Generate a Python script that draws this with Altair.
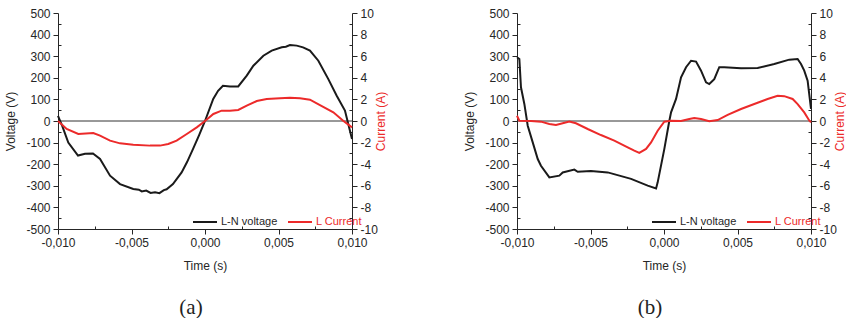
import altair as alt
import pandas as pd

# ---------------- data ----------------
SERIES = ["L-N voltage", "L Current"]
COLORS = ["#1a1a1a", "#ec2a2a"]

# panel (a)
ta_v = [-0.0100, -0.0097, -0.0093, -0.00864, -0.00816, -0.00762, -0.00714, -0.00646,
        -0.00578, -0.00488, -0.0045, -0.0043, -0.0040, -0.0037, -0.0034, -0.0031,
        -0.0028, -0.00261, -0.00218, -0.00159, -0.00122, -0.00082, -0.0004, 0.0,
        0.00056, 0.00089, 0.00122, 0.0017, 0.00226, 0.00284, 0.00329, 0.00397,
        0.00454, 0.00522, 0.0055, 0.00578, 0.00624, 0.00667, 0.00714, 0.00771,
        0.00839, 0.00896, 0.00952, 0.0100]
va = [24, -25, -100, -160, -152, -150, -176, -253,
      -292, -315, -318, -326, -322, -333, -330, -334,
      -320, -316, -292, -238, -190, -130, -65, 0,
      102, 140, 163, 160, 160, 210, 256, 302,
      326, 341, 344, 352, 349, 341, 326, 279,
      194, 117, 48, -83]

ta_i = [-0.0100, -0.00941, -0.00862, -0.0076, -0.00714, -0.00646, -0.00578, -0.00488,
        -0.00374, -0.00306, -0.0025, -0.00193, -0.00124, -0.00056, 0.0, 0.00057,
        0.00113, 0.0017, 0.00226, 0.00284, 0.00352, 0.0042, 0.0051, 0.00578,
        0.00646, 0.00714, 0.00782, 0.00873, 0.0094, 0.0100]
ia = [0, -0.74, -1.2, -1.11, -1.36, -1.82, -2.07, -2.19,
      -2.28, -2.28, -2.13, -1.82, -1.2, -0.59, 0, 0.65,
      0.96, 0.96, 1.02, 1.42, 1.85, 2.04, 2.1, 2.16,
      2.1, 1.97, 1.48, 0.8, 0.03, -0.59]

# panel (b)
tb_v = [-0.0100, -0.00984, -0.00973, -0.0095, -0.00927, -0.00893, -0.00859, -0.00837,
        -0.0078, -0.00712, -0.00689, -0.0061, -0.00587, -0.00497, -0.00383, -0.00224,
        -0.00111, -0.00054, -0.00043, 0.00002, 0.00036, 0.00048, 0.00082, 0.00116,
        0.0015, 0.00184, 0.00218, 0.00252, 0.00286, 0.00308, 0.00342, 0.00376,
        0.0041, 0.00524, 0.00637, 0.0075, 0.00852, 0.00909, 0.00932, 0.00954,
        0.00977, 0.0100]
vb = [295, 287, 156, 79, -22, -99, -176, -207,
      -261, -253, -238, -225, -235, -231, -238, -268,
      -299, -312, -284, -130, 0, 40, 102, 202,
      249, 279, 275, 233, 179, 171, 194, 249,
      249, 244, 245, 264, 284, 287, 264, 233,
      187, 56]

tb_i = [-0.0100, -0.00984, -0.00905, -0.00837, -0.0078, -0.00735, -0.00689, -0.00644,
        -0.00599, -0.00519, -0.00429, -0.00338, -0.00247, -0.00202, -0.00168, -0.00122,
        -0.00088, -0.00043, 0.00002, 0.00048, 0.00116, 0.00172, 0.00206, 0.00252,
        0.00308, 0.00365, 0.00433, 0.00524, 0.00614, 0.00705, 0.00773, 0.00818,
        0.00875, 0.00909, 0.00954, 0.00989, 0.0100]
ib = [0.49, 0.03, 0, -0.06, -0.28, -0.37, -0.21, -0.06,
      -0.21, -0.74, -1.3, -1.82, -2.44, -2.75, -2.96, -2.59,
      -1.98, -0.9, -0.06, 0.03, 0, 0.19, 0.28, 0.19,
      -0.03, 0.09, 0.56, 1.11, 1.57, 2.04, 2.34, 2.3,
      2.04, 1.57, 0.8, 0.03, -0.12]

x_ticks = [-0.01, -0.0075, -0.005, -0.0025, 0.0, 0.0025, 0.005, 0.0075, 0.01]
v_ticks = list(range(-500, 501, 50))
i_ticks = list(range(-10, 11, 1))
captions = ["(a)", "(b)"]

# ---------------- styling ----------------
FONT = "Liberation Sans"
AX = "#262626"
RED = COLORS[1]
W, H = 294, 216
FS = 12


def x_axis():
    return alt.Axis(
        values=x_ticks, title="Time (s)", grid=False,
        labelExpr="round(datum.value*2000) % 2 === 0 ? replace(replace(format(datum.value, '.3f'), '.', ','), '\u2212', '-') : ''",
        tickSize=alt.ExprRef("round(datum.value*2000) % 2 === 0 ? 5 : -3"),
        labelFlush=False, labelOverlap=False, labelPadding=3,
        labelFont=FONT, labelFontSize=FS, labelColor=AX,
        titleFont=FONT, titleFontSize=FS, titleFontWeight="normal", titleColor=AX,
        titlePadding=12, domainColor=AX, tickColor=AX, domainWidth=1,
    )


def v_axis():
    return alt.Axis(
        values=v_ticks, title="Voltage (V)", orient="left", grid=False,
        labelExpr="datum.value % 100 === 0 ? '' + datum.value : ''",
        tickSize=alt.ExprRef("datum.value % 100 === 0 ? 5 : -3"),
        labelOverlap=False, labelPadding=3,
        labelFont=FONT, labelFontSize=FS, labelColor=AX,
        titleFont=FONT, titleFontSize=FS, titleFontWeight="normal", titleColor=AX,
        titlePadding=8, domainColor=AX, tickColor=AX,
    )


def i_axis():
    return alt.Axis(
        values=i_ticks, title="Current (A)", orient="right", grid=False,
        labelExpr="datum.value % 2 === 0 ? '' + datum.value : ''",
        tickSize=alt.ExprRef("datum.value % 2 === 0 ? 5 : -3"),
        labelOverlap=False, labelPadding=3,
        labelFont=FONT, labelFontSize=FS, labelColor=AX,
        titleFont=FONT, titleFontSize=FS, titleFontWeight="normal", titleColor=RED,
        titleAngle=270, titlePadding=10, domainColor=AX, tickColor=AX,
    )


def panel(t_v, v, t_i, i, caption):
    dv = pd.DataFrame({"t": t_v, "val": v, "series": SERIES[0]})
    di = pd.DataFrame({"t": t_i, "val": i, "series": SERIES[1]})
    dz = pd.DataFrame({"val": [0]})

    xenc = alt.X("t:Q", scale=alt.Scale(domain=[-0.01, 0.01], nice=False, zero=False), axis=x_axis())
    vscale = alt.Scale(domain=[-500, 500], nice=False, zero=False)
    iscale = alt.Scale(domain=[-10, 10], nice=False, zero=False)
    color = alt.Color(
        "series:N",
        scale=alt.Scale(domain=SERIES, range=COLORS),
        legend=alt.Legend(
            title=None, orient="none", direction="horizontal",
            legendX=134, legendY=196, padding=0, symbolType="stroke", symbolSize=576,
            symbolStrokeWidth=2, labelFont=FONT, labelFontSize=11,
            labelOffset=3, columnPadding=6,
            labelColor=alt.ExprRef("datum.label === 'L Current' ? '%s' : '%s'" % (RED, AX)),
        ),
    )

    zero = alt.Chart(dz).mark_rule(color="#333333", strokeWidth=1).encode(
        y=alt.Y("val:Q", scale=vscale, axis=v_axis())
    )
    vline = alt.Chart(dv).mark_line(strokeWidth=2).encode(
        x=xenc, y=alt.Y("val:Q", scale=vscale, axis=v_axis()), color=color
    )
    iline = alt.Chart(di).mark_line(strokeWidth=2).encode(
        x=xenc, y=alt.Y("val:Q", scale=iscale, axis=i_axis()), color=color
    )
    left = alt.layer(zero, vline)
    return alt.layer(left, iline).resolve_scale(y="independent").properties(
        width=W, height=H,
        title=alt.Title(caption, orient="bottom", anchor="middle", font="Liberation Serif",
                        fontSize=21, fontWeight="normal", color="#222222",
                        dx=-14, offset=26),
    )


pa = panel(ta_v, va, ta_i, ia, captions[0])
pb = panel(tb_v, vb, tb_i, ib, captions[1])

chart = alt.hconcat(pa, pb, spacing=76).resolve_scale(
    color="independent", x="independent", y="independent"
).properties(
    padding={"left": 4, "top": 7, "right": 0, "bottom": 0},
    background="white",
).configure_view(strokeWidth=0)

chart.save("out.html", embed_options={"renderer": "svg", "actions": False})
